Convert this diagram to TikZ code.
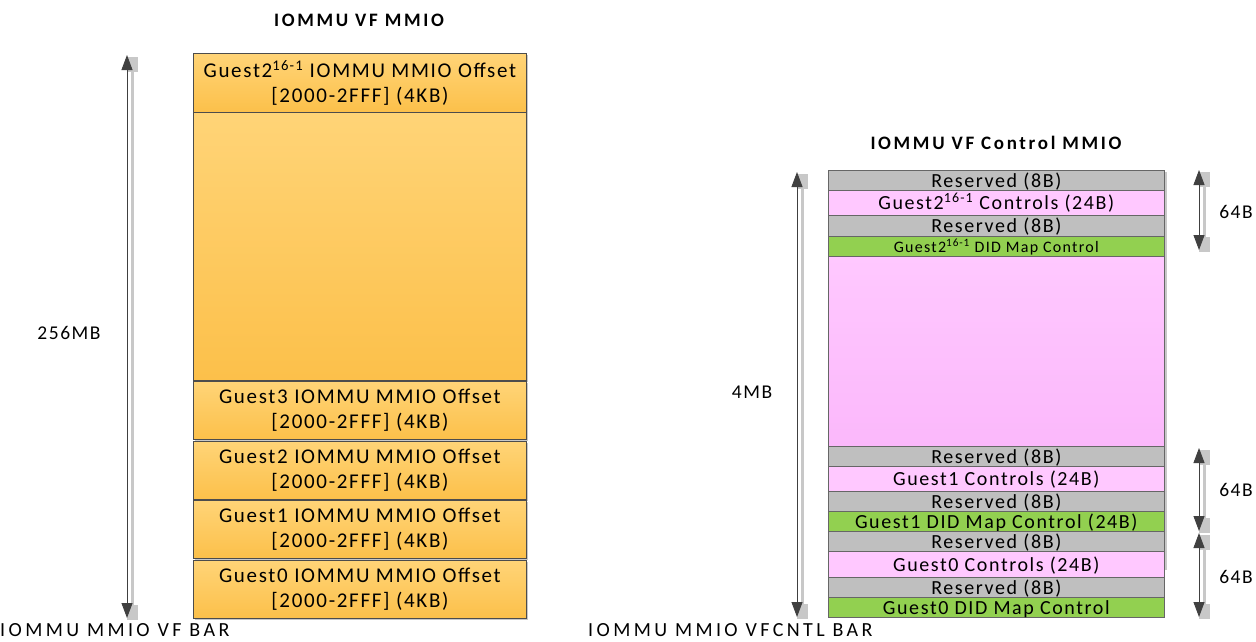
\documentclass[tikz,border=0pt]{standalone}
\usepackage{fontspec}
\setmainfont{Carlito}[LetterSpace=8]
\newfontfamily\widefont{Carlito}[LetterSpace=17]
\newfontfamily\titlefont{Carlito}[LetterSpace=14]
\usetikzlibrary{arrows.meta,shadows}
\definecolor{org1}{HTML}{FFD477}
\definecolor{org2}{HTML}{FCC04A}
\definecolor{resv}{HTML}{BFBFBF}
\definecolor{pnk}{HTML}{FFC8FF}
\definecolor{pnk2}{HTML}{FBB8FB}
\definecolor{grn}{HTML}{92D050}
\definecolor{arr}{HTML}{404040}
\definecolor{shd}{HTML}{C8C8C8}
\begin{document}
\begin{tikzpicture}[x=1pt,y=-1pt,
  obox/.style={draw=black!70, line width=0.8pt, top color=org1, bottom color=org2,
    anchor=north west, inner sep=0pt, align=center, minimum width=333pt,
    font=\fontsize{21}{25}\selectfont,
    drop shadow={shadow xshift=2pt, shadow yshift=-2pt, fill=shd, opacity=1}},
  rbox/.style={draw=black!60, line width=0.6pt, anchor=north west, inner sep=0pt,
    minimum width=336pt, font=\fontsize{20}{20}\selectfont,
    text height=16.5pt, text depth=2.5pt},
  resvbox/.style={rbox, fill=resv},
  pnkbox/.style={rbox, fill=pnk},
  grnbox/.style={rbox, fill=grn},
  lbl/.style={font=\fontsize{19.5}{22}\selectfont, inner sep=0pt},
  barlbl/.style={font=\widefont\fontsize{20}{24}\selectfont, inner sep=0pt, anchor=base west},
  ttl/.style={font=\titlefont\fontsize{19}{22}\selectfont\bfseries, inner sep=0pt},
  dimarrow/.style={draw=arr, line width=0.9pt, {Triangle[width=11pt,length=15pt]}-{Triangle[width=11pt,length=15pt]}},
  dimshadow/.style={draw=shd, line width=3pt, {Square[width=11pt,length=15pt]}-{Square[width=11pt,length=15pt]}},
]
\useasboundingbox (0,0) rectangle (1256,641);

% ---------- left: IOMMU VF MMIO ----------
\node[ttl] (ltitle) at (359,20) {IOMMU VF MMIO};
\node[obox, minimum height=59pt] (lg21) at (193,53) {Guest2\textsuperscript{16-1} IOMMU MMIO Offset\\{}[2000-2FFF] (4KB)};
\node[obox, minimum height=268pt] (lbig) at (193,112) {};
\node[obox, minimum height=58pt] (lg3) at (193,381) {Guest3 IOMMU MMIO Offset\\{}[2000-2FFF] (4KB)};
\node[obox, minimum height=58pt] (lg2) at (193,441) {Guest2 IOMMU MMIO Offset\\{}[2000-2FFF] (4KB)};
\node[obox, minimum height=58pt] (lg1) at (193,500) {Guest1 IOMMU MMIO Offset\\{}[2000-2FFF] (4KB)};
\node[obox, minimum height=58pt] (lg0) at (193,560) {Guest0 IOMMU MMIO Offset\\{}[2000-2FFF] (4KB)};

\coordinate (la1) at (127,55);
\coordinate (la2) at (127,618);
\draw[dimshadow] ([shift={(5,2)}]la1) -- ([shift={(5,2)}]la2);
\draw[dimarrow] (la1) -- (la2);
\node[lbl] (l256) at (69,333) {256MB};
\node[barlbl] (lbar) at (0,636) {IOMMU MMIO VF BAR};

% ---------- right: IOMMU VF Control MMIO ----------
\node[ttl] (rtitle) at (996,143) {IOMMU VF Control MMIO};
\fill[shd] (1164,172) rectangle (1167,570);
\node[resvbox, minimum height=20pt] (r1) at (828,170) {Reserved (8B)};
\node[pnkbox, minimum height=25pt] (r2) at (828,190) {Guest2\textsuperscript{16-1} Controls (24B)};
\node[resvbox, minimum height=21pt] (r3) at (828,215) {Reserved (8B)};
\node[grnbox, minimum height=20pt, font=\fontsize{16}{16}\selectfont, text height=14pt, text depth=2pt] (r4) at (828,236) {Guest2\textsuperscript{16-1} DID Map Control};
\node[rbox, minimum height=190pt, top color=pnk, bottom color=pnk2] (r5) at (828,256) {};
\node[resvbox, minimum height=20pt] (r6) at (828,446) {Reserved (8B)};
\node[pnkbox, minimum height=25pt] (r7) at (828,466) {Guest1 Controls (24B)};
\node[resvbox, minimum height=20pt] (r8) at (828,491) {Reserved (8B)};
\node[grnbox, minimum height=20pt] (r9) at (828,511) {Guest1 DID Map Control (24B)};
\node[resvbox, minimum height=20pt] (r10) at (828,531) {Reserved (8B)};
\node[pnkbox, minimum height=26pt] (r11) at (828,551) {Guest0 Controls (24B)};
\node[resvbox, minimum height=20pt] (r12) at (828,577) {Reserved (8B)};
\node[grnbox, minimum height=20pt] (r13) at (828,597) {Guest0 DID Map Control};

\coordinate (ra1) at (797,172);
\coordinate (ra2) at (797,617);
\draw[dimshadow] ([shift={(5,2)}]ra1) -- ([shift={(5,2)}]ra2);
\draw[dimarrow] (ra1) -- (ra2);
\node[lbl] (r4mb) at (752,392) {4MB};
\node[barlbl] (rbar) at (588,636) {IOMMU MMIO VFCNTL BAR};

\coordinate (sa1) at (1199,170);
\coordinate (sa2) at (1199,250);
\coordinate (sb1) at (1199,448);
\coordinate (sb2) at (1199,531);
\coordinate (sc1) at (1199,533);
\coordinate (sc2) at (1199,617);
\foreach \a/\b in {sa1/sa2, sb1/sb2, sc1/sc2}{
  \draw[dimshadow] ([shift={(5,2)}]\a) -- ([shift={(5,2)}]\b);
  \draw[dimarrow] (\a) -- (\b);
}
\node[lbl] (s64a) at (1236,212) {64B};
\node[lbl] (s64b) at (1236,490) {64B};
\node[lbl] (s64c) at (1236,577) {64B};
\end{tikzpicture}
\end{document}
